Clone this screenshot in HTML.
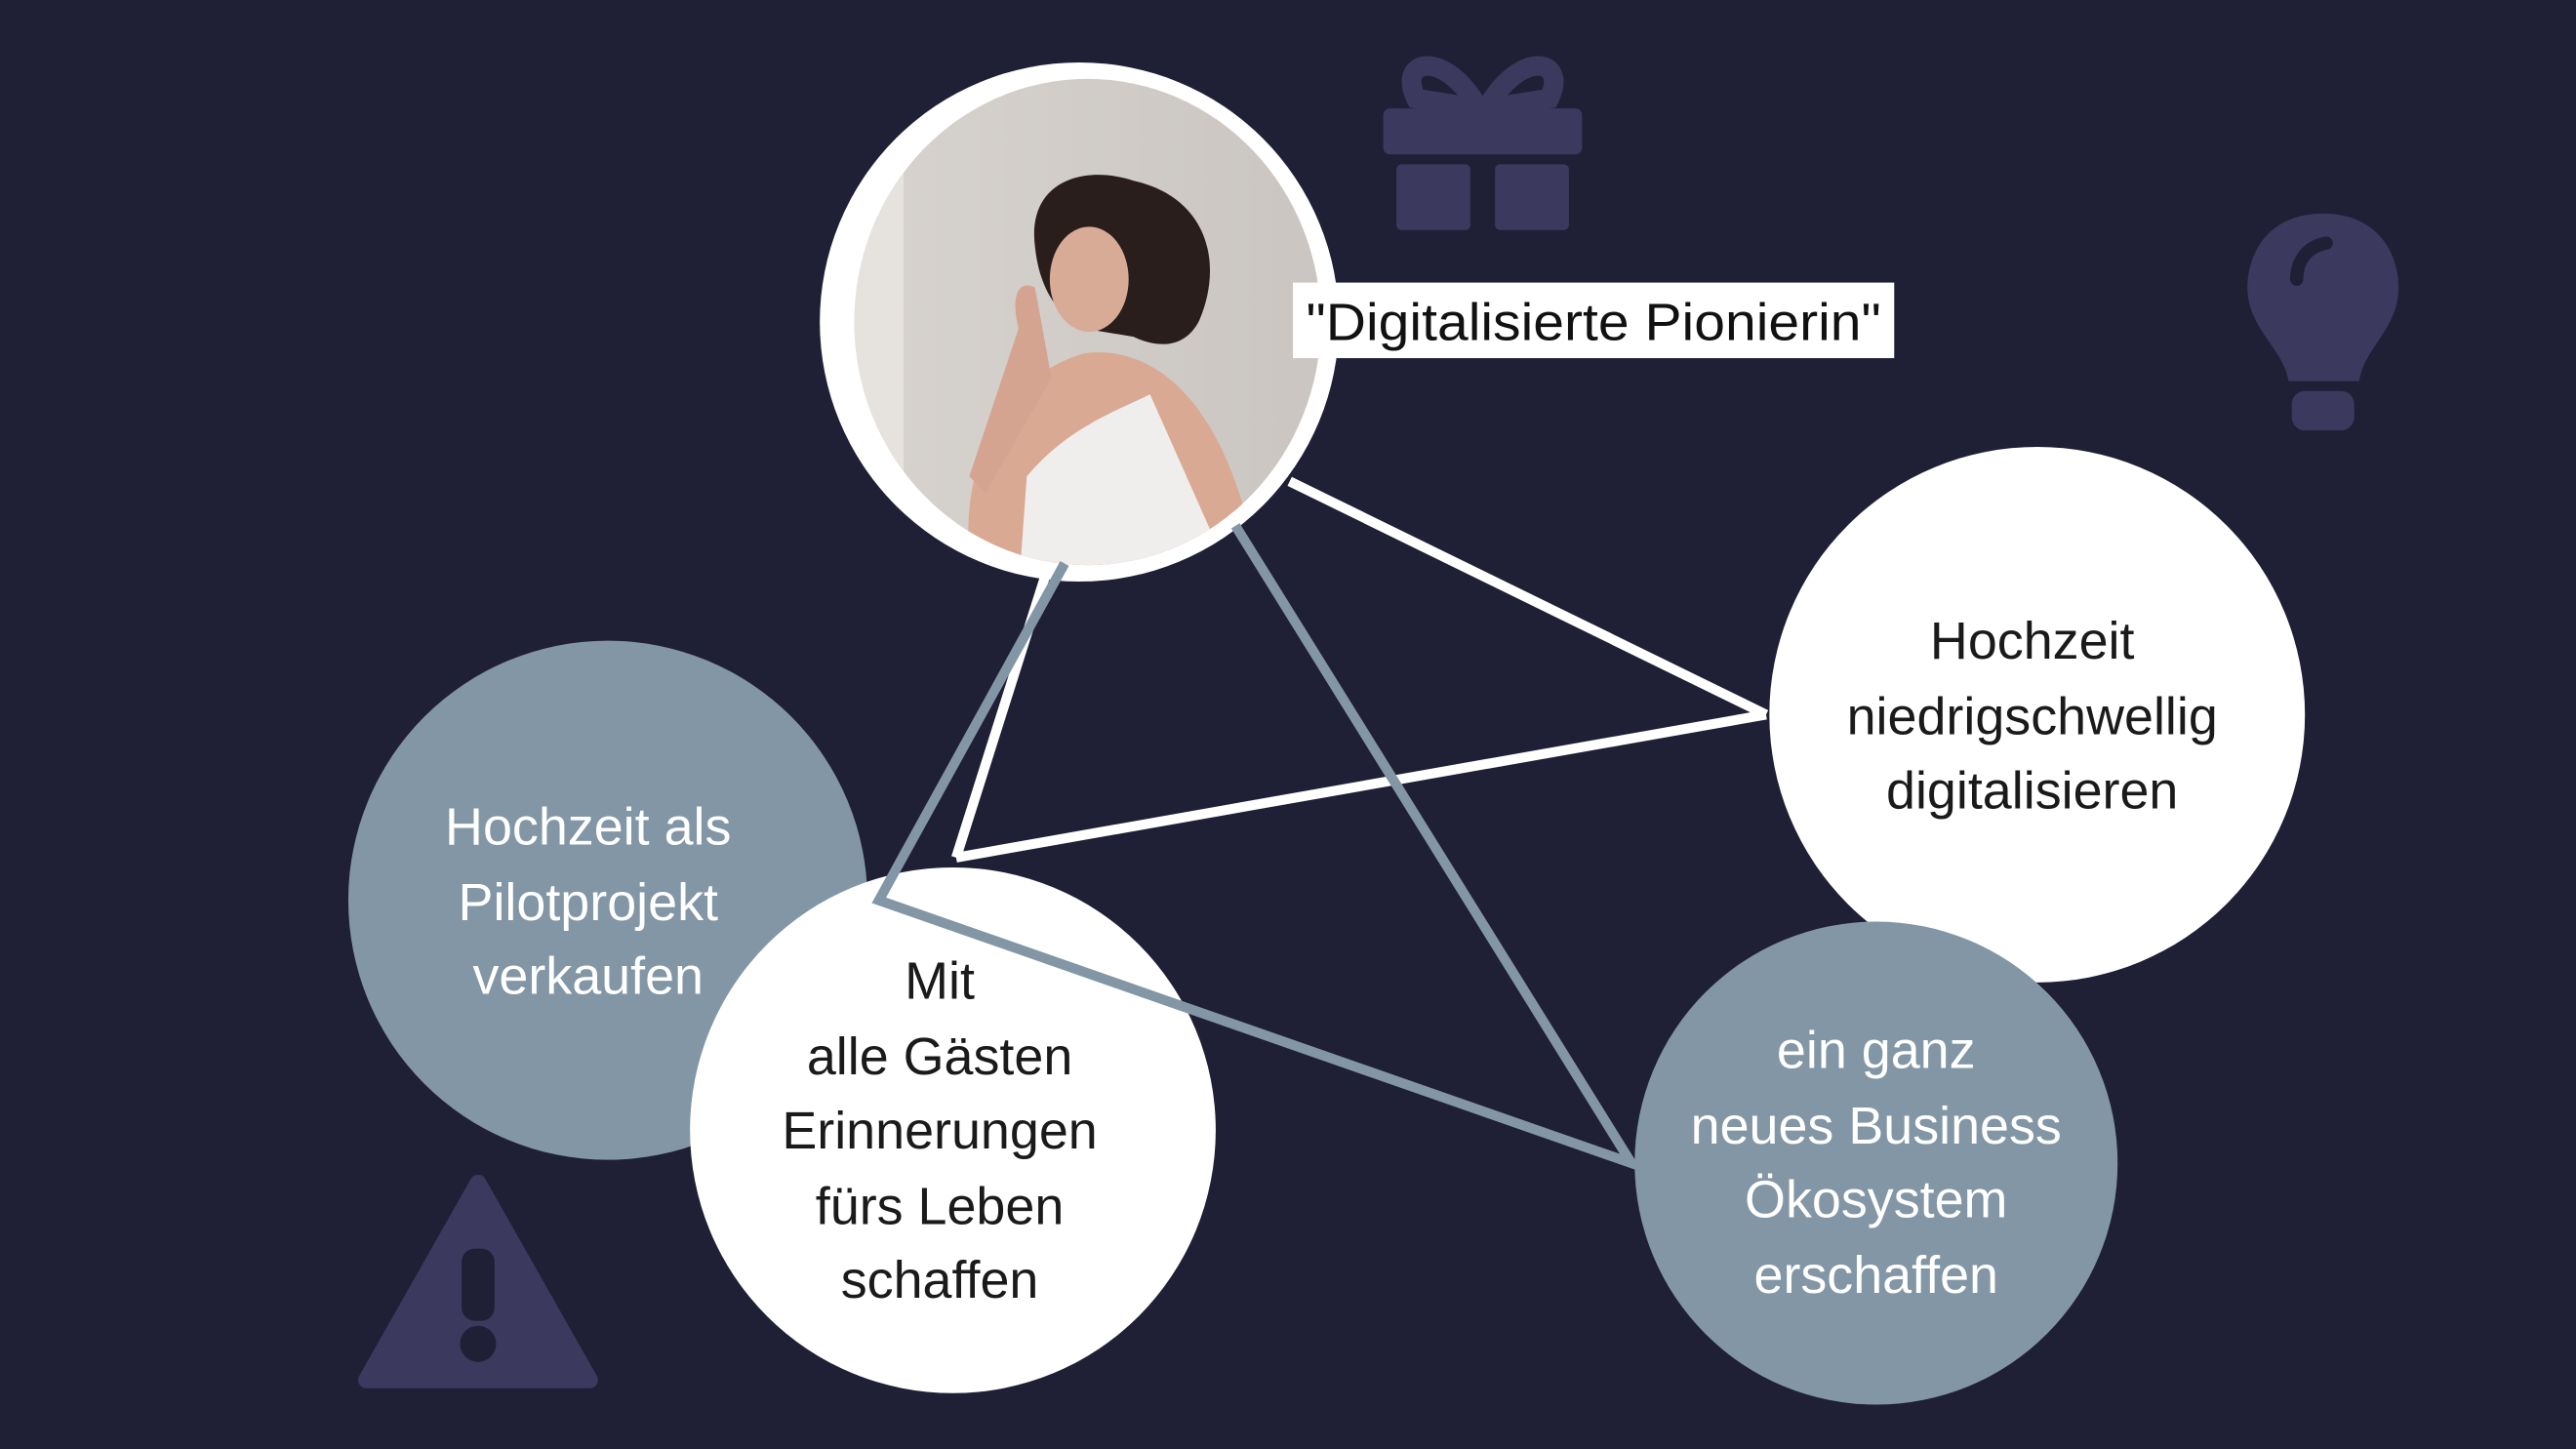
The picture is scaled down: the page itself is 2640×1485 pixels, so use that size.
<!DOCTYPE html>
<html><head><meta charset="utf-8"><style>
html,body{margin:0;padding:0;background:#1f1f36;}
svg{display:block;}
text{font-family:"Liberation Sans",sans-serif;}
</style></head><body>
<svg width="2640" height="1485" viewBox="0 0 1568 882" preserveAspectRatio="none" xmlns="http://www.w3.org/2000/svg">
<defs>
<clipPath id="pc"><ellipse cx="662" cy="196" rx="142" ry="148"/></clipPath>
<linearGradient id="bg" x1="0" y1="0" x2="1" y2="0"><stop offset="0" stop-color="#d8d4d0"/><stop offset="1" stop-color="#c9c4c0"/></linearGradient>
</defs>
<rect width="1568" height="882" fill="#1f1f36"/>
<g fill="#3b3a5e">
<rect x="842" y="66" width="121" height="28" rx="4"/>
<rect x="850" y="100" width="45" height="40" rx="3"/>
<rect x="910" y="100" width="45" height="40" rx="3"/>
<path d="M900 66 C880 30 850 35 862 60 Z M905 66 C925 30 955 35 943 60 Z" fill="none" stroke="#3b3a5e" stroke-width="12"/>
</g>
<g fill="#3b3a5e">
<path d="M1414 130 C1380 130 1368 155 1368 175 C1368 200 1390 212 1393 232 L1436 232 C1439 212 1460 200 1460 175 C1460 155 1448 130 1414 130 Z"/>
<rect x="1395" y="238" width="38" height="24" rx="8"/>
<path d="M1398 170 C1398 158 1405 150 1416 148" fill="none" stroke="#1f1f36" stroke-width="8" stroke-linecap="round"/>
</g>
<g>
<path d="M291 720 L223 840 L359 840 Z" fill="#3b3a5e" stroke="#3b3a5e" stroke-width="10" stroke-linejoin="round"/>
<rect x="281" y="760" width="20" height="44" rx="8" fill="#1f1f36"/>
<circle cx="291" cy="818" r="11" fill="#1f1f36"/>
</g>
<circle cx="657" cy="196" r="158" fill="#fff"/>
<g clip-path="url(#pc)">
<rect x="500" y="40" width="330" height="320" fill="url(#bg)"/>
<rect x="520" y="40" width="30" height="320" fill="#e6e3df"/>
<path d="M590 340 C585 280 610 230 660 215 C700 210 740 240 760 320 L770 360 L590 360 Z" fill="#d9a994"/>
<path d="M620 360 L625 290 C650 260 680 250 700 240 L740 330 L735 360 Z" fill="#f0eeec"/>
<path d="M630 150 C625 110 660 100 690 110 C735 120 745 160 730 195 C720 215 700 210 690 205 L660 200 C640 190 632 170 630 150 Z" fill="#2a1e1c"/>
<ellipse cx="663" cy="170" rx="24" ry="32" fill="#d8ab97"/>
<path d="M620 200 C615 180 620 170 630 175 L640 230 L600 300 L590 290 Z" fill="#d4a490"/>
</g>
<rect x="787" y="172" width="366" height="46" fill="#fff"/>
<text x="970" y="207" font-size="32" text-anchor="middle" fill="#111" textLength="350" lengthAdjust="spacingAndGlyphs">"Digitalisierte Pionierin"</text>
<circle cx="1240" cy="435" r="163" fill="#fff"/>
<circle cx="370" cy="548" r="158" fill="#8296a6"/>
<circle cx="580" cy="688" r="160" fill="#fff"/>
<circle cx="1142" cy="708" r="147" fill="#8296a6"/>
<g stroke="#fff" stroke-width="6" fill="none">
<line x1="785" y1="293" x2="1075" y2="435"/>
<line x1="1075" y1="435" x2="582" y2="522"/>
<line x1="582" y1="522" x2="638" y2="345"/>
</g>
<g stroke="#8296a6" stroke-width="6" fill="none" stroke-linejoin="miter">
<polyline points="648,343 535,548 993,708 752,320"/>
</g>
<g font-size="32" text-anchor="middle">
<text fill="#1a1a1a"><tspan x="1237" y="401">Hochzeit</tspan><tspan x="1237" y="447">niedrigschwellig</tspan><tspan x="1237" y="492">digitalisieren</tspan></text>
<text fill="#fff"><tspan x="358" y="514">Hochzeit als</tspan><tspan x="358" y="560">Pilotprojekt</tspan><tspan x="358" y="605">verkaufen</tspan></text>
<text fill="#1a1a1a"><tspan x="572" y="608">Mit</tspan><tspan x="572" y="654">alle Gästen</tspan><tspan x="572" y="699">Erinnerungen</tspan><tspan x="572" y="745">fürs Leben</tspan><tspan x="572" y="790">schaffen</tspan></text>
<text fill="#fff"><tspan x="1142" y="650">ein ganz</tspan><tspan x="1142" y="696">neues Business</tspan><tspan x="1142" y="741">Ökosystem</tspan><tspan x="1142" y="787">erschaffen</tspan></text>
</g>
</svg>
</body></html>
